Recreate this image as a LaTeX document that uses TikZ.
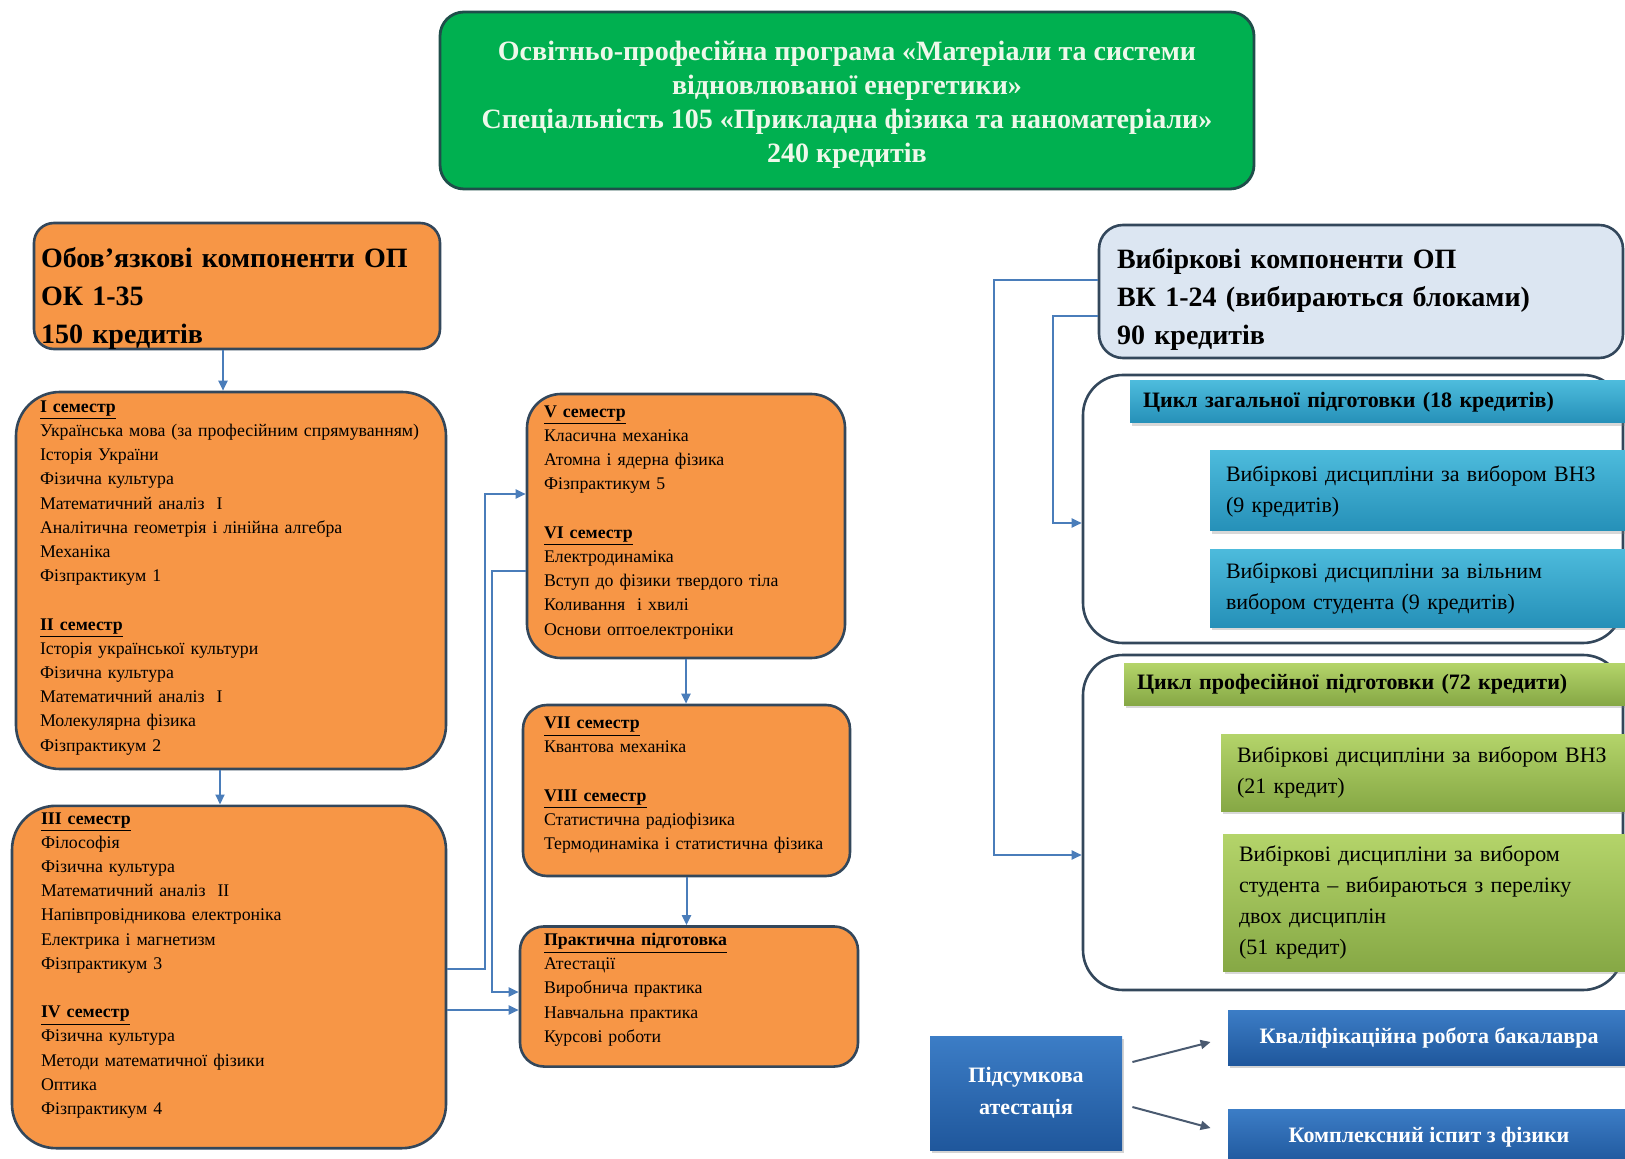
\documentclass[tikz,border=0pt]{standalone}
\usepackage{fontspec}
\setmainfont{Liberation Serif}
\usetikzlibrary{arrows.meta,shadows}

\definecolor{titlegreen}{HTML}{00B050}
\definecolor{titleedge}{HTML}{1F4E4A}
\definecolor{titletext}{HTML}{EEF8EA}
\definecolor{boxorange}{HTML}{F79646}
\definecolor{boxedge}{HTML}{33475B}
\definecolor{connblue}{HTML}{4A7DBA}
\definecolor{vibfill}{HTML}{DCE6F2}
\definecolor{tealtop}{HTML}{4DBBDC}
\definecolor{tealbot}{HTML}{2590B8}
\definecolor{greentop}{HTML}{B4D46A}
\definecolor{greenbot}{HTML}{86A845}
\definecolor{bluetop}{HTML}{3C7DC6}
\definecolor{bluebot}{HTML}{1F579C}
\definecolor{slatearrow}{HTML}{4A5A70}

\newcommand{\semhead}[1]{\underline{\textbf{#1}}}
\newcommand{\liftby}[1]{\\[#1]\mbox{}}

\begin{document}
\begin{tikzpicture}[x=0.5pt, y=-0.5pt,
    titlebox/.style={draw=titleedge, line width=1.4pt, fill=titlegreen, rounded corners=12pt,
      align=center, text=titletext, font=\bfseries\fontsize{14}{17}\selectfont},
    orangebox/.style={draw=boxedge, line width=1.3pt, fill=boxorange, align=left,
      font=\fontsize{8.9}{12.1}\selectfont},
    vibbox/.style={draw=boxedge, line width=1.3pt, fill=vibfill, rounded corners=12pt, align=left,
      inner xsep=9pt, font=\bfseries\fontsize{14}{19}\selectfont},
    cycbox/.style={draw=boxedge, line width=1.3pt, fill=white, rounded corners=20pt},
    tealbar/.style={top color=tealtop, bottom color=tealbot, align=left,
      drop shadow={shadow xshift=1pt, shadow yshift=-1.5pt, opacity=0.3}},
    greenbar/.style={top color=greentop, bottom color=greenbot, align=left,
      drop shadow={shadow xshift=1pt, shadow yshift=-1.5pt, opacity=0.3}},
    bluebar/.style={top color=bluetop, bottom color=bluebot, text=white, align=center,
      font=\bfseries\fontsize{11}{16}\selectfont,
      drop shadow={shadow xshift=1pt, shadow yshift=-1.5pt, opacity=0.35}},
    headtxt/.style={font=\bfseries\fontsize{11}{13}\selectfont, inner xsep=6.5pt},
    subtxt/.style={font=\fontsize{11}{15.5}\selectfont, inner xsep=8pt},
    conn/.style={draw=connblue, line width=1pt, -{Triangle[length=5pt,width=4.5pt]}},
    outarr/.style={draw=slatearrow, line width=1pt, -{Triangle[length=5pt,width=4.5pt]}}]

  \clip (0,0) rectangle (1625,1159);

  \node[titlebox, minimum width=407pt, minimum height=88.5pt] (title) at (847,100.5)
    {\rule{0pt}{14pt}Освітньо-професійна програма «Матеріали та системи\\ відновлюваної енергетики»\\
     Спеціальність 105 «Прикладна фізика та наноматеріали»\\ 240 кредитів};

  \node[orangebox, rounded corners=10pt, minimum width=203pt, minimum height=63pt,
    inner xsep=3.5pt, text width=196pt, text depth=29pt, font=\bfseries\fontsize{14}{19}\selectfont] (oblig) at (237,286)
    {Обов’язкові компоненти ОП\\ ОК 1-35\\ 150 кредитів};

  \node[orangebox, rounded corners=22pt, minimum width=215pt, minimum height=188.5pt,
    inner xsep=12pt, text width=191pt] (sem12) at (231,580.5)
    {\semhead{I семестр}\\ Українська мова (за професійним спрямуванням)\\ Історія України\\
     Фізична культура\\ Математичний аналіз~ I\\ Аналітична геометрія і лінійна алгебра\\
     Механіка\\ Фізпрактикум 1\\[12.1pt]
     \semhead{II семестр}\\ Історія української культури\\ Фізична культура\\
     Математичний аналіз~ I\\ Молекулярна фізика\\ Фізпрактикум 2\liftby{-7.4pt}};

  \node[orangebox, rounded corners=22pt, minimum width=217pt, minimum height=171pt,
    inner xsep=14.5pt, text width=188pt] (sem34) at (229,977)
    {\semhead{III семестр}\\ Філософія\\ Фізична культура\\ Математичний аналіз~ II\\
     Напівпровідникова електроніка\\ Електрика і магнетизм\\ Фізпрактикум 3\\[12.1pt]
     \semhead{IV семестр}\\ Фізична культура\\ Методи математичної фізики\\ Оптика\\
     Фізпрактикум 4\liftby{1.4pt}};

  \node[orangebox, rounded corners=17pt, minimum width=159pt, minimum height=132pt,
    inner xsep=8.5pt, text width=142pt] (sem56) at (686,526)
    {\semhead{V семестр}\\ Класична механіка\\ Атомна і ядерна фізика\\ Фізпрактикум 5\\[12.1pt]
     \semhead{VI семестр}\\ Електродинаміка\\ Вступ до фізики твердого тіла\\
     Коливання~ і хвилі\\ Основи оптоелектроніки\liftby{-6.4pt}};

  \node[orangebox, rounded corners=12pt, minimum width=163.5pt, minimum height=85.5pt,
    inner xsep=10.5pt, text width=142.5pt] (sem78) at (686.5,790.5)
    {\semhead{VII семестр}\\ Квантова механіка\\[12.1pt]
     \semhead{VIII семестр}\\ Статистична радіофізика\\ Термодинаміка і статистична фізика\liftby{-4.8pt}};

  \node[orangebox, rounded corners=12pt, minimum width=169pt, minimum height=68.5pt,
    inner xsep=12pt, text width=145pt] (prakt) at (689,996.5)
    {\semhead{Практична підготовка}\\ Атестації\\ Виробнича практика\\ Навчальна практика\\
     Курсові роботи\liftby{-3.3pt}};

  \draw[conn] ([xshift=-7pt]oblig.south) -- ([xshift=-7pt]oblig.south |- sem12.north);
  \draw[conn] ([xshift=-5.5pt]sem12.south) -- ([xshift=-5.5pt]sem12.south |- sem34.north);
  \draw[conn] (sem56.south) -- (sem56.south |- sem78.north);
  \draw[conn] (sem78.south) -- (sem78.south |- prakt.north);
  \draw[conn] ([yshift=4pt]sem34.east) -- ++(38,0) |- ([yshift=16pt]sem56.west);
  \draw[conn] ([yshift=-22.5pt]sem56.west) -- ++(-34,0) |- ([yshift=2.25pt]prakt.west);
  \draw[conn] ([yshift=-16.5pt]sem34.east) -- ([yshift=-16.5pt]sem34.east -| prakt.west);

  \node[vibbox, minimum width=262pt, minimum height=66.5pt, text width=244pt, text depth=33.3pt] (vib) at (1361,291.5)
    {Вибіркові компоненти ОП\\ ВК 1-24 (вибираються блоками)\\ 90 кредитів};

  \node[cycbox, minimum width=270pt, minimum height=134pt] (cycgen) at (1353,509) {};
  \node[tealbar, headtxt, minimum width=255pt, minimum height=21pt, text width=242pt] (gentitle) at (1385,402)
    {Цикл загальної підготовки (18 кредитів)};
  \node[tealbar, subtxt, minimum width=215pt, minimum height=40pt, text width=199pt] (genvnz) at (1425,491)
    {Вибіркові дисципліни за вибором ВНЗ\\ (9 кредитів)};
  \node[tealbar, subtxt, minimum width=215pt, minimum height=39pt, text width=199pt] (genfree) at (1425,588)
    {Вибіркові дисципліни за вільним\\ вибором студента (9 кредитів)};

  \node[cycbox, minimum width=270pt, minimum height=167.5pt] (cycprof) at (1353,822.5) {};
  \node[greenbar, headtxt, minimum width=258pt, minimum height=21pt, text width=245pt] (proftitle) at (1382,684)
    {Цикл професійної підготовки (72 кредити)};
  \node[greenbar, subtxt, minimum width=209.5pt, minimum height=38.5pt, text width=193.5pt] (profvnz) at (1430.5,772.5)
    {Вибіркові дисципліни за вибором ВНЗ\\ (21 кредит)};
  \node[greenbar, subtxt, minimum width=208.5pt, minimum height=68.5pt, text width=192.5pt] (proffree) at (1431.5,902.5)
    {Вибіркові дисципліни за вибором\\ студента – вибираються з переліку\\ двох дисциплін\\ (51 кредит)};

  \draw[conn] ([yshift=5.75pt]vib.west) -- ++(-104,0) |- ([yshift=-16.25pt]cycprof.west);
  \draw[conn] ([yshift=-12.25pt]vib.west) -- ++(-45,0) |- ([yshift=-7pt]cycgen.west);

  \node[bluebar, minimum width=96pt, minimum height=57pt] (pids) at (1026,1093) {Підсумкова\\ атестація};
  \node[bluebar, minimum width=201pt, minimum height=27.5pt] (kval) at (1429,1037.5) {Кваліфікаційна робота бакалавра};
  \node[bluebar, minimum width=201pt, minimum height=28pt] (komp) at (1429,1137) {Комплексний іспит з фізики};

  \draw[outarr] ([xshift=5pt,yshift=15.5pt]pids.east) -- ([xshift=-8.5pt,yshift=-2.25pt]kval.west);
  \draw[outarr] ([xshift=5pt,yshift=-7pt]pids.east) -- ([xshift=-8.5pt,yshift=4.5pt]komp.west);
\end{tikzpicture}
\end{document}
